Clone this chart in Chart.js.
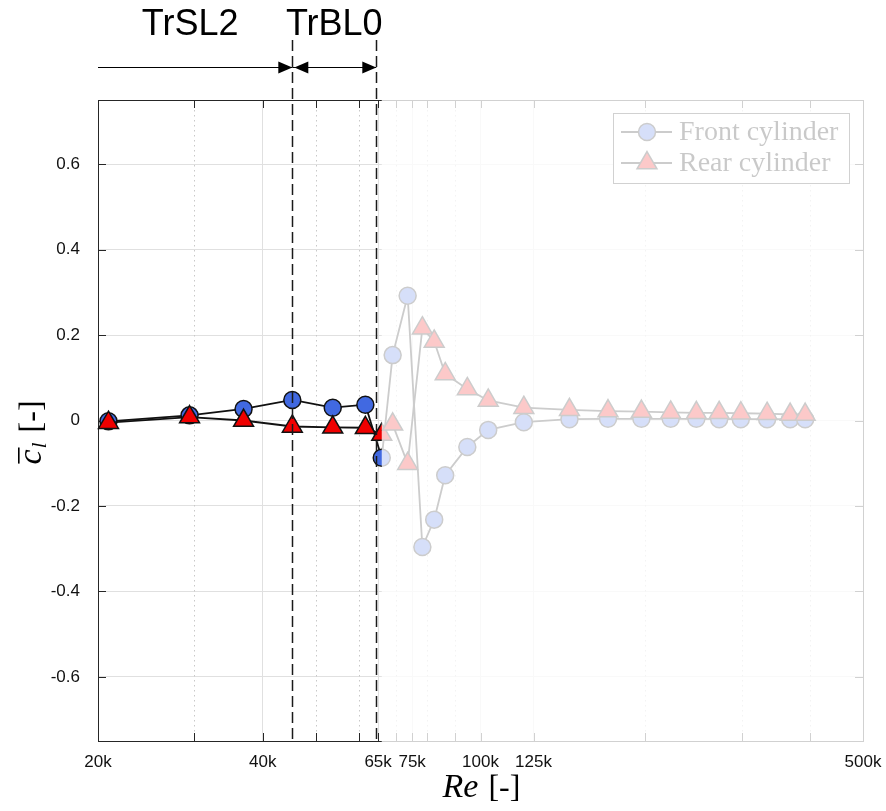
<!DOCTYPE html>
<html>
<head>
<meta charset="utf-8">
<script src="https://cdn.jsdelivr.net/npm/chart.js@4.4.1/dist/chart.umd.min.js"></script>
<style>
  html, body { margin: 0; padding: 0; background: #fff; }
  #wrap { width: 886px; height: 811px; }
</style>
</head>
<body>
<div id="wrap"><canvas id="clChart" width="886" height="811"></canvas></div>
<script>
// Reynolds numbers of the runs (same for both cylinders)
const reynolds = [20900, 29400, 36900, 45300, 53700, 61600, 66000, 69100, 73600, 78300,
                  82300, 86200, 94600, 103300, 120000, 145400, 171000, 196800, 222600,
                  248000, 273000, 299000, 334000, 368000, 392000];

// mean lift coefficient
const frontCl = [-0.002, 0.012, 0.027, 0.048, 0.030, 0.037, -0.087, 0.153, 0.292, -0.296,
                 -0.232, -0.128, -0.062, -0.022, -0.004, 0.003, 0.004, 0.004, 0.004,
                 0.004, 0.003, 0.003, 0.003, 0.003, 0.003];
const rearCl = [-0.005, 0.008, 0.000, -0.014, -0.016, -0.017, -0.033, -0.009, -0.101, 0.216,
                0.185, 0.109, 0.074, 0.047, 0.030, 0.025, 0.022, 0.021, 0.019,
                0.018, 0.018, 0.017, 0.016, 0.014, 0.014];

const xTickValues = [20000, 40000, 65000, 75000, 100000, 125000, 500000];
const xTickLabels = ['20k', '40k', '65k', '75k', '100k', '125k', '500k'];
const xMinorValues = [30000, 50000, 60000, 70000, 80000, 90000, 200000, 300000, 400000];
const yTickValues = [-0.6, -0.4, -0.2, 0, 0.2, 0.4, 0.6];
const yTickLabels = ['-0.6', '-0.4', '-0.2', '0', '0.2', '0.4', '0.6'];

// flow regime boundaries and their names
const regimeEdges = [20000, 45300, 64500];
const regimeNames = ['TrSL2', 'TrBL0'];

// runs above this Re are greyed out
const fadeFromRe = 66000;

const axisColor = '#262626';
const serif = '"Liberation Serif", "DejaVu Serif", serif';
const sans = '"Liberation Sans", Arial, sans-serif';

function arrowHead(ctx, xTip, y, dir) {
    ctx.beginPath();
    ctx.moveTo(xTip, y);
    ctx.lineTo(xTip - dir * 14, y - 6);
    ctx.lineTo(xTip - dir * 14, y + 6);
    ctx.closePath();
    ctx.fill();
}

const decorations = {
    id: 'decorations',
    beforeDatasetsDraw(chart) {
        const { ctx, chartArea: a, scales: { x, y } } = chart;
        ctx.save();
        // dotted minor grid
        ctx.strokeStyle = '#c8c8c8';
        ctx.lineWidth = 1;
        ctx.setLineDash([1.5, 3.5]);
        xMinorValues.forEach(v => {
            const px = Math.round(x.getPixelForValue(v)) + 0.5;
            ctx.beginPath();
            ctx.moveTo(px, a.top);
            ctx.lineTo(px, a.bottom);
            ctx.stroke();
        });
        ctx.setLineDash([]);

        // inward ticks on all four sides
        ctx.strokeStyle = axisColor;
        ctx.lineWidth = 1;
        xTickValues.concat(xMinorValues).forEach(v => {
            const px = Math.round(x.getPixelForValue(v)) + 0.5;
            ctx.beginPath();
            ctx.moveTo(px, a.bottom);
            ctx.lineTo(px, a.bottom - 8);
            ctx.moveTo(px, a.top);
            ctx.lineTo(px, a.top + 8);
            ctx.stroke();
        });
        yTickValues.forEach(v => {
            const py = Math.round(y.getPixelForValue(v)) + 0.5;
            ctx.beginPath();
            ctx.moveTo(a.left, py);
            ctx.lineTo(a.left + 8, py);
            ctx.moveTo(a.right, py);
            ctx.lineTo(a.right - 8, py);
            ctx.stroke();
        });

        // axes box
        ctx.strokeRect(Math.round(a.left) + 0.5, Math.round(a.top) + 0.5,
                       Math.round(a.right - a.left), Math.round(a.bottom - a.top));
        ctx.restore();
    },
    afterDatasetsDraw(chart) {
        const { ctx, chartArea: a, scales: { x } } = chart;
        ctx.save();

        // regime boundaries
        ctx.strokeStyle = '#1a1a1a';
        ctx.lineWidth = 1.5;
        ctx.setLineDash([11, 5]);
        regimeEdges.slice(1).forEach(v => {
            const px = Math.round(x.getPixelForValue(v)) + 0.5;
            ctx.beginPath();
            ctx.moveTo(px, 40);
            ctx.lineTo(px, a.bottom);
            ctx.stroke();
        });
        ctx.setLineDash([]);

        // regime arrows and names
        const arrowY = 67.5;
        ctx.fillStyle = '#000';
        ctx.strokeStyle = '#000';
        ctx.lineWidth = 1.2;
        ctx.font = '36px ' + sans;
        ctx.textAlign = 'center';
        ctx.textBaseline = 'alphabetic';
        regimeNames.forEach((name, i) => {
            const x0 = x.getPixelForValue(regimeEdges[i]);
            const x1 = x.getPixelForValue(regimeEdges[i + 1]);
            ctx.beginPath();
            ctx.moveTo(x0, arrowY);
            ctx.lineTo(x1, arrowY);
            ctx.stroke();
            arrowHead(ctx, x1, arrowY, 1);
            if (i > 0) arrowHead(ctx, x0 + 2, arrowY, -1);
            ctx.fillText(name, (x0 + x1) / 2 - (i === 0 ? 5 : 0), 35);
        });

        // legend box in the upper right corner
        const bx = a.right - 250, by = a.top + 13, bw = 236, bh = 70;
        ctx.fillStyle = '#fff';
        ctx.fillRect(bx, by, bw, bh);
        ctx.strokeStyle = axisColor;
        ctx.lineWidth = 1;
        ctx.strokeRect(bx + 0.5, by + 0.5, bw, bh);
        ctx.font = '28px ' + serif;
        ctx.textAlign = 'left';
        ctx.textBaseline = 'middle';
        chart.data.datasets.forEach((ds, i) => {
            const ly = by + 19 + i * 31;
            ctx.strokeStyle = ds.borderColor;
            ctx.lineWidth = ds.borderWidth;
            ctx.beginPath();
            ctx.moveTo(bx + 8, ly);
            ctx.lineTo(bx + 59, ly);
            ctx.stroke();
            ctx.fillStyle = ds.pointBackgroundColor;
            ctx.strokeStyle = ds.pointBorderColor;
            ctx.lineWidth = ds.pointBorderWidth;
            Chart.helpers.drawPoint(ctx, {
                pointStyle: ds.pointStyle, radius: ds.pointRadius,
                borderWidth: ds.pointBorderWidth, rotation: 0
            }, bx + 34, ly);
            ctx.fillStyle = '#000';
            ctx.fillText(ds.label, bx + 66, ly + 1);
        });

        // grey veil over the runs above fadeFromRe
        const fx = x.getPixelForValue(fadeFromRe);
        ctx.fillStyle = 'rgba(255,255,255,0.79)';
        ctx.fillRect(fx, a.top - 3, a.right + 4 - fx, a.bottom - a.top + 6);
        ctx.restore();
    },
    afterDraw(chart) {
        const { ctx, chartArea: a } = chart;
        ctx.save();
        ctx.fillStyle = '#000';
        ctx.textBaseline = 'alphabetic';
        ctx.textAlign = 'left';

        // x title: Re [-]
        const fIt = 'italic 34px ' + serif;
        const fUp = '32px ' + serif;
        ctx.font = fIt;
        const wRe = ctx.measureText('Re').width;
        ctx.font = fUp;
        const wBr = ctx.measureText(' [-]').width;
        let sx = (a.left + a.right) / 2 - (wRe + wBr) / 2;
        ctx.font = fIt;
        ctx.fillText('Re', sx, 797);
        ctx.font = fUp;
        ctx.fillText(' [-]', sx + wRe + 2, 797);

        // y title: mean c_l [-]
        ctx.translate(41, 433);
        ctx.rotate(-Math.PI / 2);
        const fSub = 'italic 22px ' + serif;
        ctx.font = fIt;
        const wc = ctx.measureText('c').width;
        ctx.font = fSub;
        const wl = ctx.measureText('l').width;
        ctx.font = fUp;
        const wb = ctx.measureText(' [-]').width;
        sx = -(wc + wl + wb + 2) / 2;
        ctx.font = fIt;
        ctx.fillText('c', sx, 0);
        ctx.fillRect(sx + 1, -23, wc + 1, 1.6);
        ctx.font = fSub;
        ctx.fillText('l', sx + wc + 1, 5);
        ctx.font = fUp;
        ctx.fillText(' [-]', sx + wc + wl + 3, 0);
        ctx.restore();
    }
};

new Chart(document.getElementById('clChart'), {
    type: 'line',
    data: {
        datasets: [{
            label: 'Front cylinder',
            data: reynolds.map((re, i) => ({ x: re, y: frontCl[i] })),
            borderColor: '#111',
            borderWidth: 1.8,
            pointStyle: 'circle',
            pointRadius: 8.5,
            pointBackgroundColor: '#4169e1',
            pointBorderColor: '#111',
            pointBorderWidth: 1.5,
            order: 2,
            clip: false
        }, {
            label: 'Rear cylinder',
            data: reynolds.map((re, i) => ({ x: re, y: rearCl[i] })),
            borderColor: '#111',
            borderWidth: 1.8,
            pointStyle: 'triangle',
            pointRadius: 11.5,
            pointBackgroundColor: '#f00000',
            pointBorderColor: '#111',
            pointBorderWidth: 1.5,
            order: 1,
            clip: false
        }]
    },
    options: {
        responsive: false,
        animation: false,
        layout: { padding: { top: 100, right: 23, left: 0, bottom: 0 } },
        plugins: { legend: { display: false }, tooltip: { enabled: false } },
        elements: { line: { tension: 0 } },
        scales: {
            x: {
                type: 'logarithmic',
                min: 20000,
                max: 500000,
                afterBuildTicks: s => { s.ticks = xTickValues.map(v => ({ value: v })); },
                afterFit: s => {
                    s.height = 70;
                    s.paddingLeft = 0;
                    s.paddingRight = 0;
                },
                ticks: {
                    autoSkip: false,
                    maxRotation: 0,
                    padding: 11,
                    color: '#111',
                    font: { family: sans, size: 17 },
                    callback: (v, i) => xTickLabels[i]
                },
                grid: { color: '#e0e0e0', drawTicks: false },
                border: { display: false }
            },
            y: {
                min: -0.75,
                max: 0.75,
                afterBuildTicks: s => { s.ticks = yTickValues.map(v => ({ value: v })); },
                afterFit: s => { s.width = 98; },
                ticks: {
                    padding: 18,
                    color: '#111',
                    font: { family: sans, size: 17 },
                    callback: (v, i) => yTickLabels[i]
                },
                grid: { color: '#e0e0e0', drawTicks: false },
                border: { display: false }
            }
        }
    },
    plugins: [decorations]
});
</script>
</body>
</html>
